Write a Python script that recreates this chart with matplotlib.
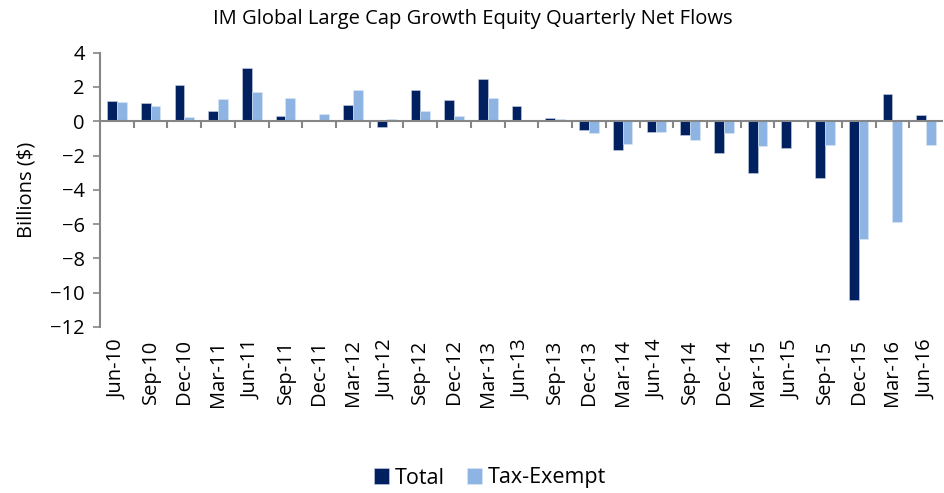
import numpy as np
import matplotlib.pyplot as plt

plt.rcParams['font.family'] = ['Open Sans', 'DejaVu Sans']

quarters = ["Jun-10", "Sep-10", "Dec-10", "Mar-11", "Jun-11", "Sep-11", "Dec-11",
            "Mar-12", "Jun-12", "Sep-12", "Dec-12", "Mar-13", "Jun-13", "Sep-13",
            "Dec-13", "Mar-14", "Jun-14", "Sep-14", "Dec-14", "Mar-15", "Jun-15",
            "Sep-15", "Dec-15", "Mar-16", "Jun-16"]
total = [1.21, 1.09, 2.10, 0.62, 3.13, 0.33, 0.06, 0.97, -0.33, 1.81, 1.22, 2.47,
         0.89, 0.22, -0.52, -1.65, -0.64, -0.78, -1.85, -3.0, -1.55, -3.3, -10.45,
         1.61, 0.39]
tax_exempt = [1.15, 0.87, 0.25, 1.32, 1.73, 1.38, 0.43, 1.85, 0.12, 0.62, 0.31, 1.34,
              0.06, 0.12, -0.66, -1.35, -0.64, -1.1, -0.70, -1.45, 0.0, -1.38, -6.84,
              -5.9, -1.40]

dark = "#002060"
light = "#8DB4E2"
grey = "#868686"
fs = 14.5

fig = plt.figure(figsize=(9.45, 4.93), dpi=100)
ax = fig.add_axes([100/945, 1-327/493, 843/945, (327-52.7)/493])

x = np.arange(len(quarters))
w = 0.29
ax.bar(x - w/2, total, w, color=dark, edgecolor="#c9d3e6", linewidth=0.4, label="Total")
ax.bar(x + w/2, tax_exempt, w, color=light, edgecolor="#dce8f5", linewidth=0.4, label="Tax-Exempt")

ax.set_xlim(-0.5, len(quarters) - 0.5)
ax.set_ylim(-12, 4)
ax.set_yticks(range(-12, 5, 2))

# category axis sits at zero with ticks between categories
ax.axhline(0, color=grey, lw=1.5, zorder=3)
ax.vlines(x[:-1] + 0.5, -0.4, 0, color=grey, lw=1.5, zorder=3)

ax.set_xticks(x)
ax.set_xticklabels(quarters, rotation=90, fontsize=fs)
ax.tick_params(axis='x', length=0, pad=9)
ax.tick_params(axis='y', length=5, width=1.2, color=grey, labelsize=fs, pad=6)

for s in ["top", "right", "bottom"]:
    ax.spines[s].set_visible(False)
ax.spines["left"].set_color(grey)
ax.spines["left"].set_linewidth(1.5)

ax.set_ylabel("Billions ($)", fontsize=fs, labelpad=10)
fig.text(0.5, 0.962, "IM Global Large Cap Growth Equity Quarterly Net Flows",
         ha="center", va="center", fontsize=fs)

fig.legend(loc="center", bbox_to_anchor=(490/945, 1-478/493), ncol=2, frameon=False,
           fontsize=15.5, handlelength=0.7, handleheight=0.7, handletextpad=0.3,
           columnspacing=1.0)

fig.savefig("out.png", dpi=100)
